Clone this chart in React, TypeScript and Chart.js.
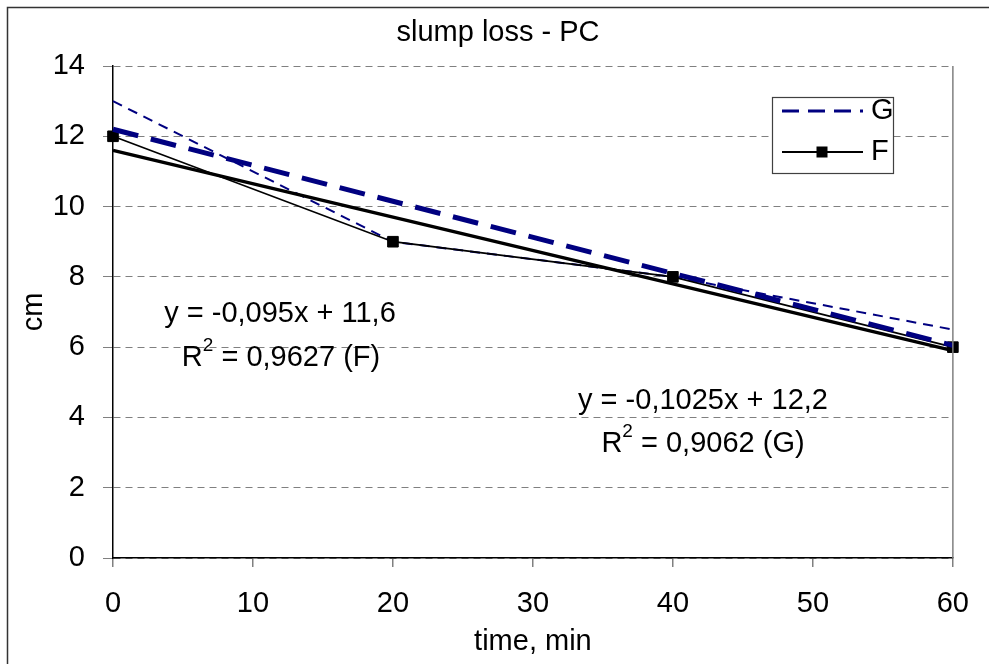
import React, { useEffect, useRef } from "react";
import { Chart, registerables } from "chart.js";

Chart.register(...registerables);

// ---- data ----
const times = [0, 20, 40, 60];
const seriesG = [13, 9, 8, 6.5];
const seriesF = [12, 9, 8, 6];
const seriesNames = ["G", "F"];
const xRange = [0, 60];
const yRange = [0, 14];
const chartTitle = "slump loss - PC";
const xAxisTitle = "time, min";
const yAxisTitle = "cm";
const eqF = ["y = -0,095x + 11,6", "0,9627 (F)"];
const eqG = ["y = -0,1025x + 12,2", "0,9062 (G)"];

const NAVY = "#000080";
const FONT = '"Liberation Sans", Arial, sans-serif';
const FS = 29;

function linreg(xs: number[], ys: number[]) {
  const n = xs.length;
  const mx = xs.reduce((a, b) => a + b, 0) / n;
  const my = ys.reduce((a, b) => a + b, 0) / n;
  let sxy = 0, sxx = 0;
  for (let i = 0; i < n; i++) {
    sxy += (xs[i] - mx) * (ys[i] - my);
    sxx += (xs[i] - mx) * (xs[i] - mx);
  }
  const slope = sxy / sxx;
  return { slope, intercept: my - slope * mx };
}

function trendPoints(xs: number[], ys: number[]) {
  const { slope, intercept } = linreg(xs, ys);
  return xRange.map((x) => ({ x, y: intercept + slope * x }));
}

function pts(xs: number[], ys: number[]) {
  return xs.map((x, i) => ({ x, y: ys[i] }));
}

function drawR2(ctx: CanvasRenderingContext2D, rest: string, cx: number, cy: number) {
  ctx.save();
  ctx.textBaseline = "middle";
  ctx.textAlign = "left";
  const big = `${FS}px ${FONT}`;
  const small = `${Math.round(FS * 0.65)}px ${FONT}`;
  ctx.font = big;
  const wR = ctx.measureText("R").width;
  const wRest = ctx.measureText(" = " + rest).width;
  ctx.font = small;
  const w2 = ctx.measureText("2").width;
  const total = wR + w2 + wRest;
  let x = cx - total / 2;
  ctx.fillStyle = "#000";
  ctx.font = big;
  ctx.fillText("R", x, cy);
  x += wR;
  ctx.font = small;
  ctx.fillText("2", x, cy - 12);
  x += w2;
  ctx.font = big;
  ctx.fillText(" = " + rest, x, cy);
  ctx.restore();
}

const decor = {
  id: "decor",
  beforeDraw(chart: any) {
    const ctx = chart.ctx as CanvasRenderingContext2D;
    ctx.save();
    ctx.fillStyle = "#fff";
    ctx.fillRect(0, 0, chart.width, chart.height);
    ctx.restore();
  },
  afterDraw(chart: any) {
    const ctx = chart.ctx as CanvasRenderingContext2D;
    const a = chart.chartArea;
    ctx.save();
    // right edge of plot area
    ctx.strokeStyle = "#808080";
    ctx.lineWidth = 1.5;
    ctx.beginPath();
    ctx.moveTo(a.right, a.top);
    ctx.lineTo(a.right, a.bottom);
    ctx.stroke();
    // outer border
    ctx.strokeStyle = "#333";
    ctx.lineWidth = 1.5;
    ctx.strokeRect(7.5, 7.5, 1100, 1100);

    ctx.fillStyle = "#000";
    ctx.font = `${FS}px ${FONT}`;
    ctx.textBaseline = "middle";
    ctx.textAlign = "center";
    ctx.fillText(chartTitle, 498, 33);
    ctx.fillText(xAxisTitle, (a.left + a.right) / 2, 642);
    ctx.save();
    ctx.translate(34, 312);
    ctx.rotate(-Math.PI / 2);
    ctx.fillText(yAxisTitle, 0, 0);
    ctx.restore();

    // equations
    ctx.fillText(eqF[0], 280, 314);
    drawR2(ctx, eqF[1], 281, 358);
    ctx.fillText(eqG[0], 703, 401);
    drawR2(ctx, eqG[1], 703, 444);

    // legend
    const lx = 772, ly = 97, lw = 121, lh = 76;
    ctx.fillStyle = "#fff";
    ctx.fillRect(lx, ly, lw, lh);
    ctx.strokeStyle = "#404040";
    ctx.lineWidth = 1.2;
    ctx.strokeRect(lx + 0.5, ly + 0.5, lw, lh);
    // G
    ctx.strokeStyle = NAVY;
    ctx.lineWidth = 3;
    ctx.setLineDash([17, 9]);
    ctx.beginPath();
    ctx.moveTo(782, 111);
    ctx.lineTo(863, 111);
    ctx.stroke();
    ctx.setLineDash([]);
    // F
    ctx.strokeStyle = "#000";
    ctx.lineWidth = 2;
    ctx.beginPath();
    ctx.moveTo(782, 152);
    ctx.lineTo(863, 152);
    ctx.stroke();
    ctx.fillStyle = "#000";
    ctx.fillRect(822 - 5.5, 152 - 5.5, 11, 11);
    ctx.font = `${FS}px ${FONT}`;
    ctx.textAlign = "left";
    ctx.textBaseline = "middle";
    ctx.fillText(seriesNames[0], 871, 111);
    ctx.fillText(seriesNames[1], 871, 152);
    ctx.restore();
  },
};

export default function App() {
  const ref = useRef<HTMLCanvasElement | null>(null);
  useEffect(() => {
    if (!ref.current) return;
    const chart = new Chart(ref.current, {
      type: "line",
      data: {
        datasets: [
          {
            label: "trend F",
            data: trendPoints(times, seriesF),
            borderColor: "#000",
            borderWidth: 3.5,
            pointRadius: 0,
            clip: false as any,
          },
          {
            label: "trend G",
            data: trendPoints(times, seriesG),
            borderColor: NAVY,
            borderWidth: 5,
            borderDash: [26, 13],
            pointRadius: 0,
            clip: false as any,
          },
          {
            label: seriesNames[1],
            data: pts(times, seriesF),
            borderColor: "#000",
            backgroundColor: "#000",
            borderWidth: 1.7,
            pointStyle: "rect",
            pointRadius: 7.5,
            pointBorderWidth: 1,
            clip: false as any,
          },
          {
            label: seriesNames[0],
            data: pts(times, seriesG),
            borderColor: NAVY,
            borderWidth: 2,
            borderDash: [10, 7],
            pointRadius: 0,
            clip: false as any,
          },
        ],
      },
      options: {
        animation: false,
        responsive: false,
        devicePixelRatio: 1,
        layout: { padding: { top: 66, right: 36, bottom: 0, left: 0 } },
        plugins: { legend: { display: false }, tooltip: { enabled: false }, title: { display: false } },
        scales: {
          x: {
            type: "linear",
            min: xRange[0],
            max: xRange[1],
            ticks: { stepSize: 10, color: "#000", font: { family: FONT, size: FS }, padding: 20, maxRotation: 0 },
            grid: { drawOnChartArea: false, drawTicks: true, tickLength: 9, color: "#808080", lineWidth: 1.5 },
            border: { color: "#000", width: 1.5 },
            afterFit: (s: any) => { s.height = 106; },
          },
          y: {
            type: "linear",
            min: yRange[0],
            max: yRange[1],
            ticks: { stepSize: 2, color: "#000", font: { family: FONT, size: FS }, padding: 18 },
            grid: { color: "#808080", lineWidth: 1, tickLength: 10 },
            border: { color: "#000", width: 1.5, dash: [7, 5] },
            afterFit: (s: any) => { s.width = 113; },
          },
        },
      },
      plugins: [decor],
    });
    return () => chart.destroy();
  }, []);
  return (
    <div style={{ position: "fixed", left: 0, top: 0, width: 989, height: 664, background: "#fff" }}>
      <canvas ref={ref} width={989} height={664} style={{ display: "block" }} />
    </div>
  );
}
